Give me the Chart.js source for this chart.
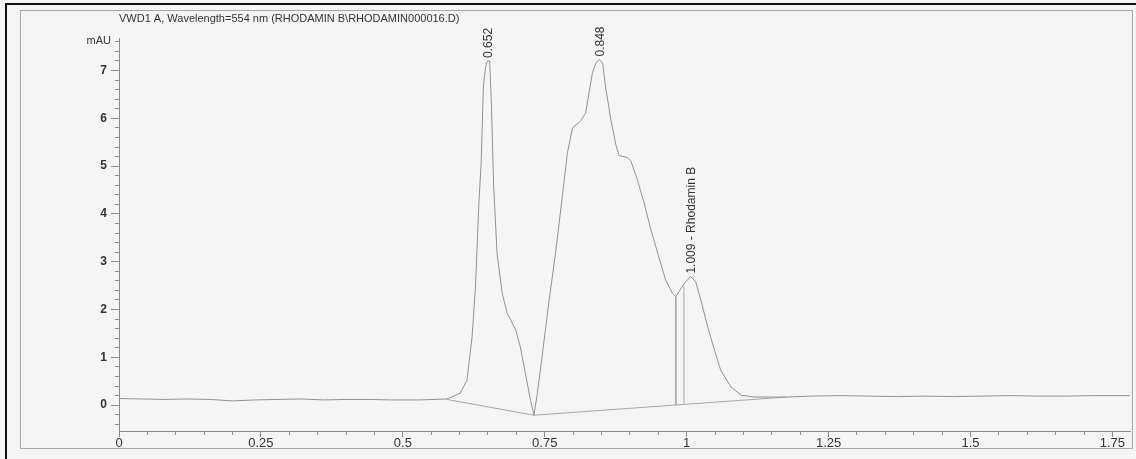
<!DOCTYPE html>
<html>
<head>
<meta charset="utf-8">
<script src="https://cdn.jsdelivr.net/npm/chart.js@4.4.1/dist/chart.umd.min.js"></script>
<style>
  html, body { margin: 0; padding: 0; background: #f5f5f5; }
  canvas { display: block; }
</style>
</head>
<body>
<canvas id="chroma" width="1136" height="459"></canvas>
<script>
// signal: retention time (min) / absorbance (mAU)
var signalTime = [0.00, 0.04, 0.08, 0.12, 0.16, 0.20, 0.24, 0.28, 0.32, 0.36, 0.40, 0.44, 0.48, 0.53,
  0.578, 0.601, 0.613, 0.622, 0.628, 0.634, 0.638, 0.642, 0.646, 0.649, 0.653, 0.656, 0.660, 0.666,
  0.675, 0.684, 0.699, 0.707, 0.716, 0.725, 0.731, 0.737, 0.746, 0.757, 0.769, 0.781, 0.790, 0.799,
  0.813, 0.822, 0.828, 0.834, 0.840, 0.846, 0.852, 0.857, 0.866, 0.875, 0.881, 0.896, 0.902, 0.913,
  0.925, 0.937, 0.949, 0.963, 0.975, 0.981, 0.996, 1.007, 1.016, 1.025, 1.037, 1.049, 1.060, 1.078,
  1.096, 1.119, 1.175, 1.22, 1.27, 1.32, 1.37, 1.42, 1.47, 1.52, 1.57, 1.62, 1.67, 1.72, 1.781];
var signalMAU = [0.14, 0.13, 0.12, 0.13, 0.12, 0.09, 0.11, 0.12, 0.13, 0.11, 0.12, 0.12, 0.11, 0.11,
  0.13, 0.25, 0.52, 1.43, 2.48, 4.23, 5.07, 6.67, 7.09, 7.20, 7.20, 6.32, 4.58, 3.18,
  2.34, 1.92, 1.57, 1.22, 0.66, 0.10, -0.21, 0.25, 1.08, 2.13, 3.18, 4.37, 5.28, 5.80,
  5.94, 6.11, 6.53, 6.95, 7.16, 7.23, 7.16, 6.67, 6.00, 5.46, 5.22, 5.18, 5.10, 4.72,
  4.23, 3.67, 3.18, 2.62, 2.34, 2.27, 2.55, 2.69, 2.58, 2.20, 1.64, 1.15, 0.73, 0.38,
  0.21, 0.17, 0.17, 0.19, 0.20, 0.19, 0.18, 0.19, 0.18, 0.19, 0.20, 0.19, 0.19, 0.20, 0.20];

// integration baseline and drop lines
var baselineTime = [0.578, 0.731, 1.175];
var baselineMAU = [0.12, -0.21, 0.17];
var dropTime = [0.981, 0.981];
var dropMAU = [2.27, 0.0];
var drop2Time = [0.995, 0.995];
var drop2MAU = [2.5, 0.03];

// peak annotations
var peakTimes = [0.652, 0.848, 1.009];
var peakHeights = [7.2, 7.23, 2.69];
var peakNames = ['0.652', '0.848', '1.009 - Rhodamin B'];

var xTickLabels = [0, 0.25, 0.5, 0.75, 1, 1.25, 1.5, 1.75];
var yTickLabels = [0, 1, 2, 3, 4, 5, 6, 7];
var unitLabel = 'mAU';
var titleText = 'VWD1 A, Wavelength=554 nm (RHODAMIN B\\RHODAMIN000016.D)';

var FONT = "'Liberation Sans', Arial, sans-serif";

function toPoints(xs, ys) {
  return xs.map(function (x, i) { return { x: x, y: ys[i] }; });
}

function findLabel(list, v) {
  for (var i = 0; i < list.length; i++) {
    if (Math.abs(list[i] - v) < 1e-6) return String(list[i]);
  }
  return null;
}

// paper, frame, unit label and peak names
var paperPlugin = {
  id: 'paper',
  beforeDraw: function (chart) {
    var c = chart.ctx;
    c.save();
    c.fillStyle = '#f5f5f5';
    c.fillRect(0, 0, chart.width, chart.height);
    c.strokeStyle = '#a8a8a8';
    c.lineWidth = 1;
    c.strokeRect(20.5, 10.5, 1112, 438);
    c.fillStyle = '#111';
    c.fillRect(5, 3, 2, chart.height - 3);
    c.fillRect(5, 3, chart.width - 5, 2);
    c.restore();
  },
  afterDatasetsDraw: function (chart) {
    var c = chart.ctx;
    var xs = chart.scales.x, ys = chart.scales.y;
    c.save();
    c.fillStyle = '#333';
    c.font = '11px ' + FONT;
    c.textAlign = 'right';
    c.textBaseline = 'middle';
    c.fillText(unitLabel, chart.chartArea.left - 8, ys.getPixelForValue(7.62));

    c.font = '12px ' + FONT;
    c.textAlign = 'left';
    for (var i = 0; i < peakTimes.length; i++) {
      c.save();
      c.translate(xs.getPixelForValue(peakTimes[i]), ys.getPixelForValue(peakHeights[i]) - 3);
      c.rotate(-Math.PI / 2);
      c.fillText(peakNames[i], 0, 0);
      c.restore();
    }
    c.restore();
  }
};

var ctx = document.getElementById('chroma');

new Chart(ctx, {
  type: 'line',
  data: {
    datasets: [
      { data: toPoints(signalTime, signalMAU), borderColor: '#929292', borderWidth: 1, pointRadius: 0, tension: 0 },
      { data: toPoints(baselineTime, baselineMAU), borderColor: '#a8a8a8', borderWidth: 1, pointRadius: 0 },
      { data: toPoints(dropTime, dropMAU), borderColor: '#a8a8a8', borderWidth: 1, pointRadius: 0 },
      { data: toPoints(drop2Time, drop2MAU), borderColor: '#c6c6c6', borderWidth: 1, pointRadius: 0 }
    ]
  },
  options: {
    responsive: false,
    animation: false,
    events: [],
    layout: { padding: { left: 0, right: 6, top: 0, bottom: 0 } },
    plugins: {
      legend: { display: false },
      tooltip: { enabled: false },
      title: {
        display: true,
        text: titleText,
        align: 'start',
        fullSize: false,
        color: '#333',
        font: { family: FONT, size: 11, weight: 'normal', lineHeight: 1.2 },
        padding: { top: 12.4, bottom: 12.4 }
      }
    },
    scales: {
      x: {
        type: 'linear',
        min: 0,
        max: 1.781,
        border: { color: '#8a8a8a', width: 1 },
        grid: {
          drawOnChartArea: false,
          drawTicks: true,
          tickLength: 6,
          tickColor: '#8a8a8a',
          tickBorderDash: function (c) { return findLabel(xTickLabels, c.tick.value) ? [] : [3, 3]; }
        },
        ticks: {
          stepSize: 0.05,
          includeBounds: false,
          autoSkip: false,
          maxRotation: 0,
          padding: -1,
          color: '#333',
          font: { family: FONT, size: 13 },
          callback: function (v) { return findLabel(xTickLabels, v) || ''; }
        },
        afterFit: function (s) { s.height = 28; }
      },
      y: {
        type: 'linear',
        min: -0.54,
        max: 7.68,
        border: { color: '#8a8a8a', width: 1 },
        grid: {
          drawOnChartArea: false,
          drawTicks: true,
          tickLength: 8,
          tickColor: '#8a8a8a',
          tickBorderDash: function (c) { return findLabel(yTickLabels, c.tick.value) ? [] : [4, 4]; },
          tickBorderDashOffset: function (c) { return findLabel(yTickLabels, c.tick.value) ? 0 : 4; }
        },
        ticks: {
          stepSize: 0.2,
          includeBounds: false,
          autoSkip: false,
          padding: 4,
          color: '#333',
          font: { family: FONT, size: 12, weight: 'bold' },
          callback: function (v) { return findLabel(yTickLabels, v) || ''; }
        },
        afterFit: function (s) { s.width = 119; }
      }
    }
  },
  plugins: [paperPlugin]
});
</script>
</body>
</html>
